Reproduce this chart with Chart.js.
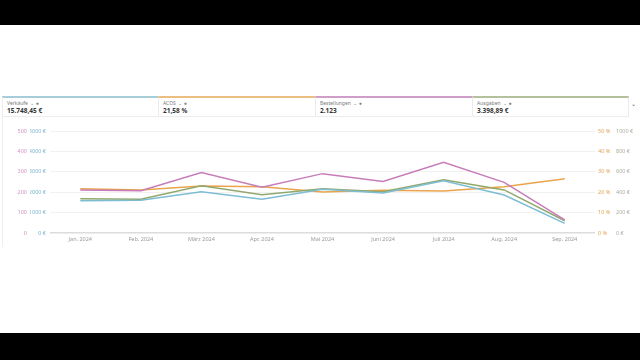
<!DOCTYPE html>
<html>
<head>
<meta charset="utf-8">
<script src="https://cdn.jsdelivr.net/npm/chart.js@4.4.1/dist/chart.umd.min.js"></script>
<style>
  html, body { margin: 0; padding: 0; }
  body { width: 640px; height: 360px; position: relative; background: #fff; overflow: hidden; font-family: "Noto Sans", sans-serif; }
  .bar { position: absolute; left: 0; width: 640px; background: #000; }
  .tile { position: absolute; top: 96px; height: 18px; border: 1px solid #ececec; border-top: 2px solid; box-sizing: content-box; }
  .tile .lbl { position: absolute; left: 4px; top: 2px; font-size: 5px; color: #7a7a7a; white-space: nowrap; }
  .tile .val { position: absolute; left: 4px; top: 8px; font-size: 6.5px; font-weight: bold; color: #333; white-space: nowrap; }
  .card { position: absolute; left: 2px; top: 116px; width: 630px; height: 131px; border-left: 1px solid #eeeeee; }
  .chev { position: absolute; left: 631px; top: 100px; font-size: 6px; color: #555; }
  #wrap { position: absolute; left: 0; top: 118px; width: 640px; height: 134px; }
</style>
</head>
<body>
<div class="bar" style="top:0;height:25px"></div>
<div class="bar" style="top:333px;height:27px"></div>

<div class="tile" style="left:2px;width:155px;border-top-color:#a6cdd8">
  <div class="lbl">Verkäufe &nbsp;⌄ ●</div><div class="val">15.748,45 €</div>
</div>
<div class="tile" style="left:158px;width:156px;border-top-color:#ebbf82">
  <div class="lbl">ACOS &nbsp;⌄ ●</div><div class="val">21,58 %</div>
</div>
<div class="tile" style="left:315px;width:156px;border-top-color:#cf9dc8">
  <div class="lbl">Bestellungen &nbsp;⌄ ●</div><div class="val">2.123</div>
</div>
<div class="tile" style="left:472px;width:155px;border-top-color:#b3c19c">
  <div class="lbl">Ausgaben &nbsp;⌄ ●</div><div class="val">3.398,89 €</div>
</div>
<div class="chev">⌄</div>
<div class="card"></div>

<div id="wrap"><canvas id="chart"></canvas></div>

<script>
const months = ['Jan. 2024', 'Feb. 2024', 'März 2024', 'Apr. 2024', 'Mai 2024', 'Juni 2024', 'Juli 2024', 'Aug. 2024', 'Sep. 2024'];
const verkaeufe = [1580, 1600, 2020, 1650, 2140, 1960, 2560, 1860, 475];
const acos = [21.7, 21.1, 23.0, 22.7, 20.1, 20.9, 20.6, 22.7, 26.6];
const bestellungen = [211, 207, 297, 224, 291, 253, 347, 248, 64];
const ausgaben = [336, 330, 464, 376, 434, 405, 523, 422, 120];

const tickFont = { family: 'Noto Sans', size: 5.5 };

function fixWidth(w) {
    return function (scale) { scale.width = w; };
}

function lineSet(label, data, color, axis) {
    return {
        label: label,
        data: data,
        borderColor: color,
        backgroundColor: color,
        borderWidth: 1.5,
        pointRadius: 0,
        tension: 0,
        fill: false,
        yAxisID: axis
    };
}

new Chart(document.getElementById('chart').getContext('2d'), {
    type: 'line',
    data: {
        labels: months,
        datasets: [
            lineSet('Bestellungen', bestellungen, '#c77cb9', 'yOrders'),
            lineSet('Verkäufe', verkaeufe, '#7dbdd4', 'ySales'),
            lineSet('Ausgaben', ausgaben, '#91a86c', 'ySpend'),
            lineSet('ACOS', acos, '#eaa44b', 'yAcos')
        ]
    },
    options: {
        responsive: true,
        maintainAspectRatio: false,
        animation: false,
        layout: { padding: { top: 13, bottom: 5, left: 0, right: 0 } },
        plugins: {
            legend: { display: false },
            tooltip: { enabled: false }
        },
        scales: {
            x: {
                offset: true,
                grid: { display: false, drawTicks: false },
                border: { display: false },
                ticks: { color: '#9a9a9a', font: tickFont, padding: 3, maxRotation: 0 },
                afterFit: function (scale) { scale.height = 14; }
            },
            yOrders: {
                position: 'left',
                weight: 1,
                min: 0, max: 500,
                ticks: { stepSize: 100, color: '#cf93c5', font: tickFont, padding: 3 },
                grid: {
                    drawTicks: false,
                    color: ctx => ctx.tick.value === 0 ? '#dcdcdc' : '#f1f1f1',
                    lineWidth: ctx => ctx.tick.value === 0 ? 1.5 : 1
                },
                border: { display: false },
                afterFit: fixWidth(30)
            },
            ySales: {
                position: 'left',
                weight: 0,
                min: 0, max: 5000,
                ticks: { stepSize: 1000, color: '#79b5cf', font: tickFont, padding: 4, callback: v => v + ' €' },
                grid: { display: false, drawTicks: false },
                border: { display: false },
                afterFit: fixWidth(20)
            },
            yAcos: {
                position: 'right',
                weight: 0,
                min: 0, max: 50,
                ticks: { stepSize: 10, color: '#e3a453', font: tickFont, padding: 3, callback: v => v + ' %' },
                grid: { display: false, drawTicks: false },
                border: { display: false },
                afterFit: fixWidth(18)
            },
            ySpend: {
                position: 'right',
                weight: 1,
                min: 0, max: 1000,
                ticks: { stepSize: 200, color: '#a9ad9f', font: tickFont, padding: 3, callback: v => v + ' €' },
                grid: { display: false, drawTicks: false },
                border: { display: false },
                afterFit: fixWidth(27)
            }
        }
    }
});
</script>
</body>
</html>
